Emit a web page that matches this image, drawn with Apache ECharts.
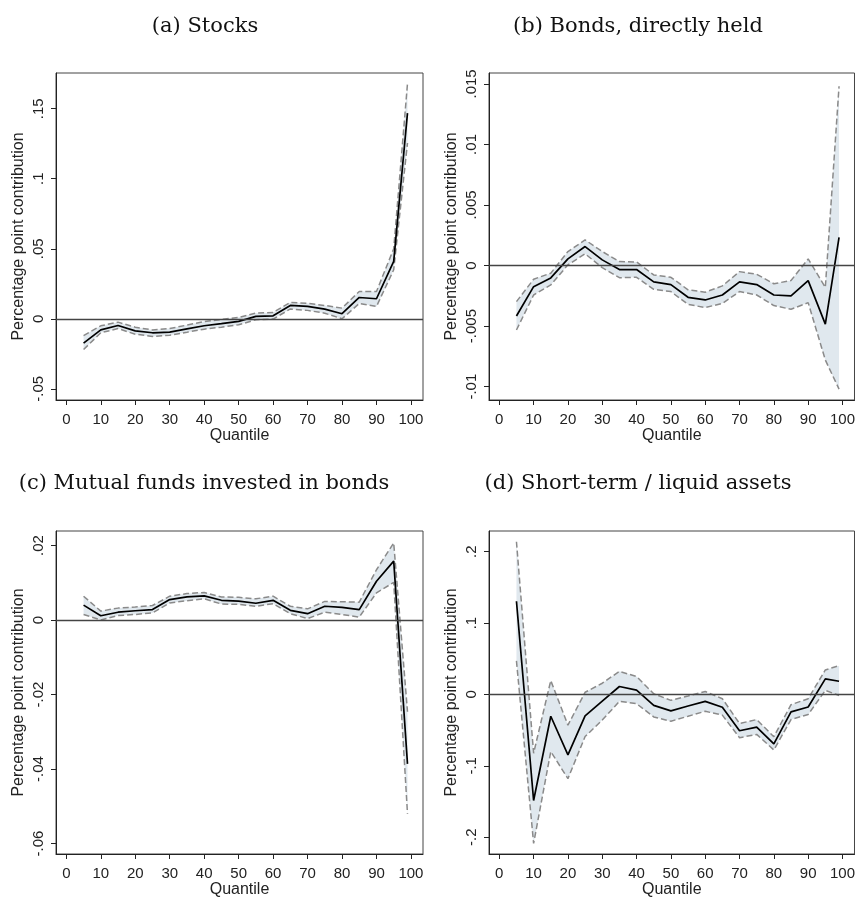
<!DOCTYPE html>
<html>
<head>
<meta charset="utf-8">
<script src="https://cdn.jsdelivr.net/npm/echarts@6/dist/echarts.min.js"></script>
<style>
  html, body { margin: 0; padding: 0; background: #fff; }
  #chart { width: 858px; height: 899px; }
</style>
</head>
<body>
<div id="chart"></div>
<script>
// quantile points
var quantiles = [5, 10, 15, 20, 25, 30, 35, 40, 45, 50, 55, 60, 65, 70, 75, 80, 85, 90, 95, 99];
var xTicks = [0, 10, 20, 30, 40, 50, 60, 70, 80, 90, 100];

// (a) Stocks
var stocksMid = [-0.0174, -0.0079, -0.0048, -0.0086, -0.0100, -0.0095, -0.0072, -0.0050, -0.0035, -0.0019, 0.0017, 0.0021, 0.0095, 0.0088, 0.0069, 0.0036, 0.0152, 0.0143, 0.0410, 0.1469];
var stocksLo = [-0.0220, -0.0100, -0.0070, -0.0110, -0.0126, -0.0117, -0.0096, -0.0074, -0.0060, -0.0043, -0.0007, -0.0002, 0.0070, 0.0060, 0.0040, 0.0000, 0.0110, 0.0088, 0.0350, 0.1255];
var stocksHi = [-0.0120, -0.0050, -0.0024, -0.0060, -0.0080, -0.0070, -0.0045, -0.0020, -0.0005, 0.0010, 0.0040, 0.0045, 0.0117, 0.0110, 0.0095, 0.0076, 0.0195, 0.0195, 0.0500, 0.1680];
var stocksTicks = [-0.05, 0, 0.05, 0.1, 0.15];

// (b) Bonds, directly held
var bondsMid = [-0.00416, -0.00174, -0.00102, 0.00055, 0.00157, 0.00047, -0.00033, -0.00033, -0.00135, -0.00157, -0.00262, -0.00284, -0.00243, -0.00135, -0.00157, -0.00243, -0.00251, -0.00124, -0.00483, 0.00232];
var bondsLo = [-0.00532, -0.00243, -0.00160, 0.00006, 0.00097, -0.00017, -0.00100, -0.00097, -0.00196, -0.00215, -0.00320, -0.00347, -0.00312, -0.00215, -0.00243, -0.00330, -0.00361, -0.00306, -0.00780, -0.01020];
var bondsHi = [-0.00298, -0.00113, -0.00063, 0.00116, 0.00212, 0.00116, 0.00033, 0.00030, -0.00077, -0.00097, -0.00200, -0.00220, -0.00168, -0.00050, -0.00072, -0.00150, -0.00124, 0.00055, -0.00180, 0.01480];
var bondsTicks = [-0.01, -0.005, 0, 0.005, 0.01, 0.015];

// (c) Mutual funds invested in bonds
var fundsMid = [0.0040, 0.00115, 0.0021, 0.0025, 0.0028, 0.0055, 0.0062, 0.0065, 0.0053, 0.0051, 0.0045, 0.0053, 0.0026, 0.0017, 0.0037, 0.0034, 0.0028, 0.0104, 0.0158, -0.0386];
var fundsLo = [0.0015, 0.0000, 0.0012, 0.0015, 0.0019, 0.0046, 0.0052, 0.0057, 0.0043, 0.0042, 0.0037, 0.0044, 0.0017, 0.0004, 0.0021, 0.0015, 0.0008, 0.0073, 0.0101, -0.0520];
var fundsHi = [0.0064, 0.0024, 0.0032, 0.0035, 0.0039, 0.0064, 0.0071, 0.0074, 0.0062, 0.0061, 0.0057, 0.0064, 0.0037, 0.0030, 0.0050, 0.0049, 0.0048, 0.0135, 0.0207, -0.0246];
var fundsTicks = [-0.06, -0.04, -0.02, 0, 0.02];

// (d) Short-term / liquid assets
var liquidMid = [0.1306, -0.1486, -0.0306, -0.0847, -0.0300, -0.0093, 0.0111, 0.0060, -0.0153, -0.0231, -0.0162, -0.0097, -0.0180, -0.0509, -0.0458, -0.0694, -0.0245, -0.0176, 0.0218, 0.0185];
var liquidLo = [0.047, -0.2088, -0.080, -0.118, -0.059, -0.036, -0.0097, -0.013, -0.0315, -0.0375, -0.0306, -0.0236, -0.029, -0.0606, -0.056, -0.0778, -0.0352, -0.028, 0.0056, -0.0014];
var liquidHi = [0.214, -0.0824, 0.0194, -0.043, 0.003, 0.0157, 0.0324, 0.025, 0.0009, -0.0083, -0.0023, 0.0042, -0.006, -0.0407, -0.0352, -0.0593, -0.0144, -0.006, 0.0343, 0.0403];
var liquidTicks = [-0.2, -0.1, 0, 0.1, 0.2];

var panels = [
    { title: '(a) Stocks', mid: stocksMid, lo: stocksLo, hi: stocksHi, ticks: stocksTicks, ymin: -0.058, ymax: 0.1755, left: 56, top: 73, tx: 205, ty: 27 },
    { title: '(b) Bonds, directly held', mid: bondsMid, lo: bondsLo, hi: bondsHi, ticks: bondsTicks, ymin: -0.0111, ymax: 0.0159, left: 489, top: 73, tx: 638, ty: 27 },
    { title: '(c) Mutual funds invested in bonds', mid: fundsMid, lo: fundsLo, hi: fundsHi, ticks: fundsTicks, ymin: -0.0628, ymax: 0.0239, left: 56, top: 531, tx: 204, ty: 484 },
    { title: '(d) Short-term / liquid assets', mid: liquidMid, lo: liquidLo, hi: liquidHi, ticks: liquidTicks, ymin: -0.2236, ymax: 0.229, left: 489, top: 531, tx: 638, ty: 484 }
];

// stata-like labels: .05, -.01, 0
function stataFmt(v) {
    if (Math.abs(v) < 1e-12) return '0';
    var s = String(parseFloat(v.toFixed(6)));
    return s.replace('0.', '.');
}

function pairs(xs, ys) {
    return xs.map(function (x, i) { return [x, ys[i]]; });
}

var labelFont = 'Liberation Sans';
var grids = [], xAxes = [], yAxes = [], series = [], graphics = [];

panels.forEach(function (p, k) {
    grids.push({
        left: p.left, top: p.top, width: 367, height: 327,
        show: true, borderColor: '#444', borderWidth: 1, backgroundColor: '#fff'
    });
    xAxes.push({
        type: 'value', gridIndex: k, min: -3, max: 103.5,
        name: 'Quantile', nameLocation: 'middle', nameGap: 28,
        nameTextStyle: { fontFamily: labelFont, fontSize: 16, color: '#222' },
        axisLine: { onZero: false, lineStyle: { color: '#222', width: 1 } },
        axisTick: { show: true, length: 5, customValues: xTicks, lineStyle: { color: '#222' } },
        axisLabel: { customValues: xTicks, margin: 12, fontFamily: labelFont, fontSize: 15, color: '#222' },
        splitLine: { show: false }
    });
    yAxes.push({
        type: 'value', gridIndex: k, min: p.ymin, max: p.ymax,
        name: 'Percentage point contribution', nameLocation: 'middle', nameGap: 29, nameRotate: 90,
        nameTextStyle: { fontFamily: labelFont, fontSize: 16, color: '#222' },
        axisLine: { show: true, onZero: false, lineStyle: { color: '#222', width: 1 } },
        axisTick: { show: true, length: 5, customValues: p.ticks, lineStyle: { color: '#222' } },
        axisLabel: { customValues: p.ticks, rotate: 90, margin: 10, fontFamily: labelFont, fontSize: 15, color: '#222', formatter: stataFmt },
        splitLine: { show: false }
    });

    // confidence band
    series.push({
        type: 'custom', xAxisIndex: k, yAxisIndex: k, silent: true, z: 1,
        data: quantiles.map(function (q, i) { return [q, p.lo[i], p.hi[i]]; }),
        encode: { x: 0, y: [1, 2] },
        renderItem: function (params, api) {
            if (params.dataIndex !== 0) return;
            var pts = [];
            for (var i = 0; i < quantiles.length; i++) pts.push(api.coord([quantiles[i], p.hi[i]]));
            for (var j = quantiles.length - 1; j >= 0; j--) pts.push(api.coord([quantiles[j], p.lo[j]]));
            return { type: 'polygon', shape: { points: pts }, style: { fill: '#e0e8ee' } };
        }
    });
    [p.lo, p.hi].forEach(function (b) {
        series.push({
            type: 'line', xAxisIndex: k, yAxisIndex: k, data: pairs(quantiles, b),
            showSymbol: false, silent: true, z: 3,
            lineStyle: { color: '#8a8a8a', width: 1.5, type: [6, 3] }
        });
    });
    series.push({
        type: 'line', xAxisIndex: k, yAxisIndex: k, data: pairs(quantiles, p.mid),
        showSymbol: false, silent: true, z: 4,
        lineStyle: { color: '#000', width: 1.7 },
        markLine: {
            silent: true, symbol: 'none', label: { show: false }, animation: false,
            lineStyle: { color: '#444', width: 1.4, type: 'solid' },
            data: [{ yAxis: 0 }]
        }
    });

    graphics.push({
        type: 'text', x: p.tx, y: p.ty,
        style: { text: p.title, font: '21px "DejaVu Serif"', fill: '#111', align: 'center', verticalAlign: 'middle' }
    });
});

var chart = echarts.init(document.getElementById('chart'), null, { renderer: 'canvas' });
chart.setOption({
    animation: false,
    backgroundColor: '#fff',
    grid: grids,
    xAxis: xAxes,
    yAxis: yAxes,
    series: series,
    graphic: graphics
});
</script>
</body>
</html>
